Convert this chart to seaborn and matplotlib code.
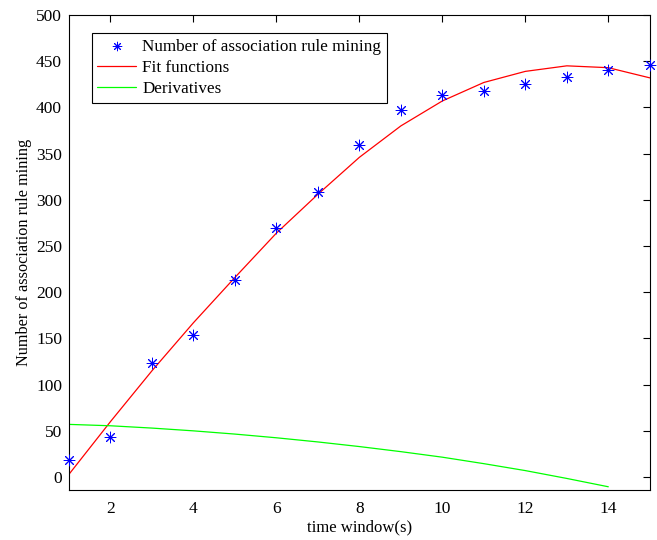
import matplotlib
matplotlib.use("Agg")
import matplotlib.pyplot as plt
import seaborn as sns
import numpy as np
import pandas as pd

x_points = [1, 2, 3, 4, 5, 6, 7, 8, 9, 10, 11, 12, 13, 14, 15]
rule_counts = [19, 43, 123, 154, 213, 269, 308, 359, 397, 413, 418, 425, 433, 441, 446]
fit_values = [3, 60, 115, 167, 216, 264, 306, 346, 380, 407, 427, 439, 445, 443, 432]
x_deriv = [1, 2, 3, 4, 5, 6, 7, 8, 9, 10, 11, 12, 13, 14]
deriv_values = [57, 55.5, 53, 50, 46.5, 42.5, 38, 33, 27.5, 21.5, 14.5, 7, -1.5, -10.5]

sns.set_theme(style="white")
plt.rcParams['font.family'] = ['Liberation Serif', 'DejaVu Serif']
plt.rcParams['text.color'] = 'black'
plt.rcParams['axes.labelcolor'] = 'black'
plt.rcParams['xtick.color'] = 'black'
plt.rcParams['ytick.color'] = 'black'

fig = plt.figure(figsize=(6.57, 5.4), dpi=100)
ax = fig.add_axes([0.105, 0.0926, 0.884, 0.8796])

df_pts = pd.DataFrame({"x": x_points, "y": rule_counts})
df_fit = pd.DataFrame({"x": x_points, "y": fit_values})
df_der = pd.DataFrame({"x": x_deriv, "y": deriv_values})

sns.scatterplot(data=df_pts, x="x", y="y", ax=ax, marker=(8, 2, 0), s=60,
                color="#0000ff", linewidth=0.7, edgecolor="#0000ff",
                label="Number of association rule mining", zorder=3, clip_on=False)
sns.lineplot(data=df_fit, x="x", y="y", ax=ax, color="#ff0000", linewidth=0.9,
             label="Fit functions")
sns.lineplot(data=df_der, x="x", y="y", ax=ax, color="#00ff00", linewidth=0.9,
             label="Derivatives")

ax.set_xlim(1, 15)
ax.set_ylim(-14, 500)
ax.set_xticks([2, 4, 6, 8, 10, 12, 14])
ax.set_yticks(list(range(0, 501, 50)))
ax.tick_params(direction="in", top=True, right=True, length=5, width=0.8,
               labelsize=12.5, colors="black")
ax.tick_params(axis="x", pad=8)
ax.tick_params(axis="y", pad=5)
for s in ax.spines.values():
    s.set_visible(True)
    s.set_color("black")
    s.set_linewidth(0.8)
ax.set_xlabel("time window(s)", fontsize=12, labelpad=2)
ax.set_ylabel("Number of association rule mining", fontsize=11.7, labelpad=3)

leg = ax.legend(loc="upper left", bbox_to_anchor=(0.039, 0.962), fontsize=12.3,
                frameon=True, fancybox=False, edgecolor="black", framealpha=1,
                handlelength=2.3, borderpad=0.32, labelspacing=0.32,
                handletextpad=0.35, borderaxespad=0, markerscale=0.8)
leg.get_frame().set_linewidth(0.8)

fig.savefig("out.png", dpi=100)
